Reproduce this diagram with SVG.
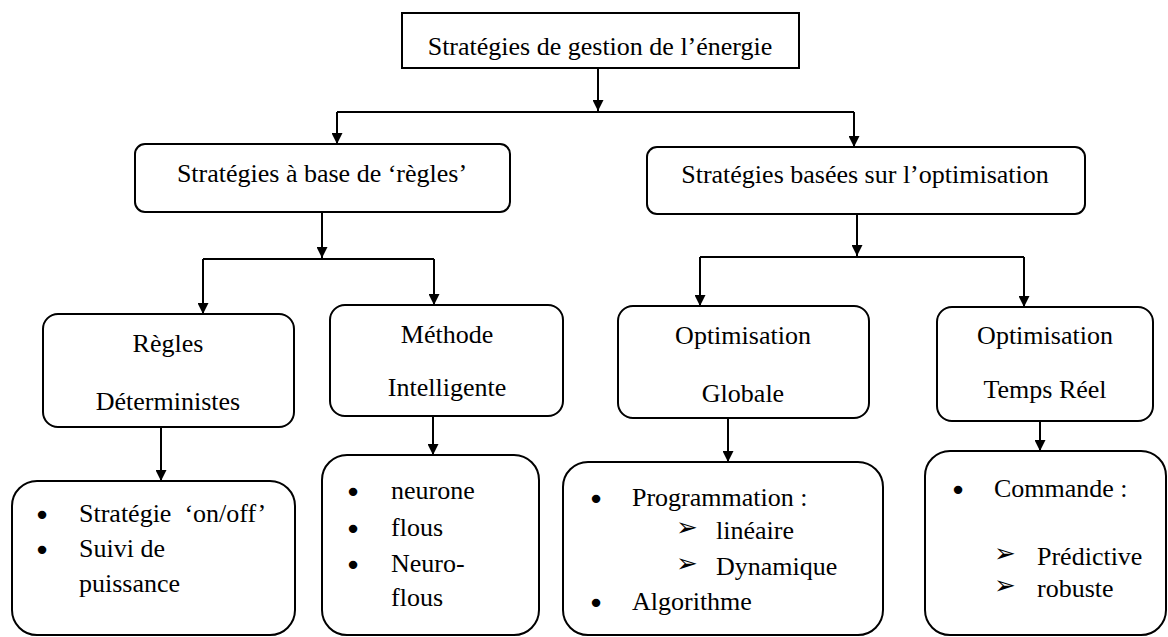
<svg xmlns="http://www.w3.org/2000/svg" width="1168" height="637" viewBox="0 0 1168 637" font-family="Liberation Serif, Times New Roman, serif">
<style>
  .box { fill: #ffffff; stroke: #000000; stroke-width: 2; }
  .t { font-family: 'Liberation Serif', 'Times New Roman', serif; font-size: 26px; fill: #000000; }
  .c { text-anchor: middle; }
  .b { font-family: 'DejaVu Sans', sans-serif; font-size: 29px; text-anchor: middle; fill: #000000; }
  .arr { font-family: 'DejaVu Sans', sans-serif; font-size: 26px; fill: #000000; }
  .line { fill: none; stroke: #000000; stroke-width: 2; }
</style>
<defs>
  <marker id="ah" viewBox="0 0 12 12" refX="12" refY="6" markerWidth="12" markerHeight="11" markerUnits="userSpaceOnUse" orient="auto">
    <path d="M0,0 L12,6 L0,12 z" fill="#000000"/>
  </marker>
</defs>
<rect width="1168" height="637" fill="#ffffff"/>

<g id="connectors">
  <path class="line" d="M598,68 V111" marker-end="url(#ah)"/>
  <path class="line" d="M337,112 H854"/>
  <path class="line" d="M337,112 V144" marker-end="url(#ah)"/>
  <path class="line" d="M854,112 V147" marker-end="url(#ah)"/>

  <path class="line" d="M322,212 V258" marker-end="url(#ah)"/>
  <path class="line" d="M203,259 H434"/>
  <path class="line" d="M203,259 V314" marker-end="url(#ah)"/>
  <path class="line" d="M434,259 V305" marker-end="url(#ah)"/>

  <path class="line" d="M857,214 V256" marker-end="url(#ah)"/>
  <path class="line" d="M700,257 H1024"/>
  <path class="line" d="M700,257 V306" marker-end="url(#ah)"/>
  <path class="line" d="M1024,257 V307" marker-end="url(#ah)"/>

  <path class="line" d="M161,427 V481" marker-end="url(#ah)"/>
  <path class="line" d="M433,416 V455" marker-end="url(#ah)"/>
  <path class="line" d="M728,418 V462" marker-end="url(#ah)"/>
  <path class="line" d="M1040,421 V451" marker-end="url(#ah)"/>
</g>

<g id="root">
  <rect class="box" x="402" y="13" width="397" height="55"/>
  <text class="t c" x="600" y="55">Stratégies de gestion de l’énergie</text>
</g>

<g id="regles">
  <rect class="box" x="135" y="144" width="375" height="68" rx="10"/>
  <text class="t c" x="322" y="182">Stratégies à base de ‘règles’</text>
</g>

<g id="optimisation">
  <rect class="box" x="647" y="147" width="438" height="67" rx="10"/>
  <text class="t c" x="865" y="183">Stratégies basées sur l’optimisation</text>
</g>

<g id="deterministes">
  <rect class="box" x="43" y="314" width="251" height="113" rx="15"/>
  <text class="t c" x="168" y="352">Règles</text>
  <text class="t c" x="168" y="410">Déterministes</text>
</g>

<g id="intelligente">
  <rect class="box" x="330" y="305" width="233" height="111" rx="15"/>
  <text class="t c" x="447" y="343">Méthode</text>
  <text class="t c" x="447" y="396">Intelligente</text>
</g>

<g id="globale">
  <rect class="box" x="618" y="306" width="251" height="112" rx="15"/>
  <text class="t c" x="743" y="344">Optimisation</text>
  <text class="t c" x="743" y="402">Globale</text>
</g>

<g id="tempsreel">
  <rect class="box" x="937" y="307" width="216" height="114" rx="15"/>
  <text class="t c" x="1045" y="344">Optimisation</text>
  <text class="t c" x="1045" y="398">Temps Réel</text>
</g>

<g id="liste-deterministes">
  <rect class="box" x="12" y="481" width="283" height="154" rx="25"/>
  <text class="b" x="42" y="525">•</text>
  <text class="t" x="79" y="522" xml:space="preserve">Stratégie  ‘on/off’</text>
  <text class="b" x="42" y="560">•</text>
  <text class="t" x="79" y="557">Suivi de</text>
  <text class="t" x="79" y="592">puissance</text>
</g>

<g id="liste-intelligente">
  <rect class="box" x="322" y="455" width="217" height="180" rx="25"/>
  <text class="b" x="353" y="502">•</text>
  <text class="t" x="391" y="499">neurone</text>
  <text class="b" x="353" y="539">•</text>
  <text class="t" x="391" y="536">flous</text>
  <text class="b" x="353" y="575">•</text>
  <text class="t" x="391" y="572">Neuro-</text>
  <text class="t" x="391" y="606">flous</text>
</g>

<g id="liste-globale">
  <rect class="box" x="563" y="462" width="320" height="173" rx="25"/>
  <text class="b" x="596" y="509">•</text>
  <text class="t" x="632" y="506">Programmation :</text>
  <text class="arr" x="676" y="536">➢</text>
  <text class="t" x="716" y="539">linéaire</text>
  <text class="arr" x="676" y="572">➢</text>
  <text class="t" x="716" y="575">Dynamique</text>
  <text class="b" x="596" y="613">•</text>
  <text class="t" x="632" y="610">Algorithme</text>
</g>

<g id="liste-tempsreel">
  <rect class="box" x="925" y="451" width="241" height="184" rx="25"/>
  <text class="b" x="958" y="500">•</text>
  <text class="t" x="994" y="497">Commande :</text>
  <text class="arr" x="994" y="562">➢</text>
  <text class="t" x="1037" y="565">Prédictive</text>
  <text class="arr" x="994" y="594">➢</text>
  <text class="t" x="1037" y="597">robuste</text>
</g>
</svg>
